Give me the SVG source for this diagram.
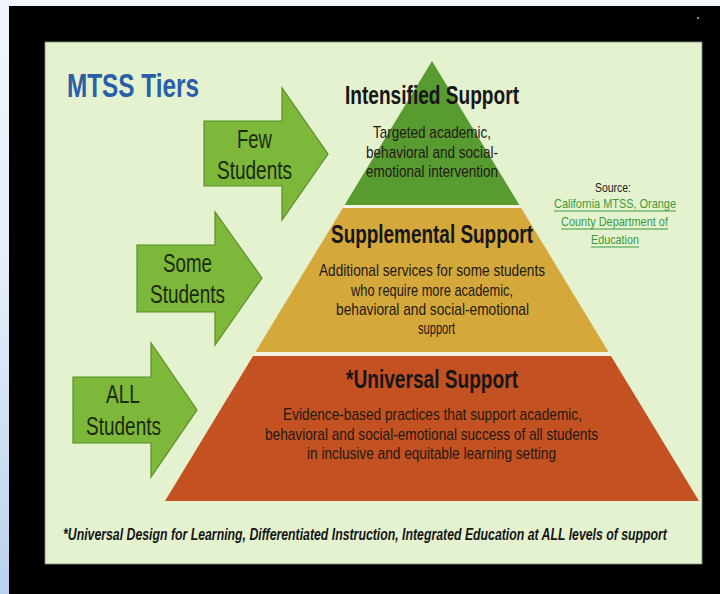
<svg xmlns="http://www.w3.org/2000/svg" width="720" height="594" viewBox="0 0 720 594">
  <defs>
    <linearGradient id="sideGrad" x1="0" y1="0" x2="0" y2="1">
      <stop offset="0" stop-color="#f1f6fc"/>
      <stop offset="0.5" stop-color="#e2ecf8"/>
      <stop offset="1" stop-color="#b9d1ec"/>
    </linearGradient>
    <style>
      text { font-family: "Liberation Sans", Arial, sans-serif; }
      .title { font-size: 33px; font-weight: bold; fill: #2a5fa8; }
      .arrow { fill: #7db83a; stroke: #5b8e2b; stroke-width: 1.2; }
      .arrowtxt { font-size: 25px; fill: #1c2a10; }
      .head { font-size: 25px; font-weight: bold; fill: #161616; }
      .body { font-size: 17px; fill: #231a12; }
      .src { font-size: 12.5px; fill: #222; }
      .link { font-size: 12.5px; fill: #3c9a3c; }
      .uline { stroke: #3c9a3c; stroke-width: 1; }
      .foot { font-size: 16px; font-weight: bold; font-style: italic; fill: #161616; }
    </style>
  </defs>

  <!-- screen background -->
  <rect x="0" y="0" width="720" height="594" fill="#f1f6fc"/>
  <rect x="0" y="0" width="9" height="594" fill="url(#sideGrad)"/>
  <rect x="9" y="6" width="711" height="588" fill="#000"/>
  <circle cx="698" cy="18" r="1.3" fill="#a07070"/>

  <!-- slide panel -->
  <rect x="45" y="42" width="657" height="522" fill="#e4f2cf" stroke="#7f8f78" stroke-width="0.8"/>

  <g id="title">
    <text class="title" x="67" y="97" textLength="132" lengthAdjust="spacingAndGlyphs">MTSS Tiers</text>
  </g>

  <!-- pyramid gap base -->
  <polygon points="432,61 699,501 165,501" fill="#f4f3e2"/>

  <g id="tier-intensified">
    <polygon points="432,61 519.4,205 344.6,205" fill="#589b31"/>
    <text class="head" x="345" y="104" textLength="174" lengthAdjust="spacingAndGlyphs">Intensified Support</text>
    <text class="body" x="373" y="138" textLength="118" lengthAdjust="spacingAndGlyphs">Targeted academic,</text>
    <text class="body" x="366" y="158" textLength="132" lengthAdjust="spacingAndGlyphs">behavioral and social-</text>
    <text class="body" x="366" y="177" textLength="132" lengthAdjust="spacingAndGlyphs">emotional intervention</text>
  </g>

  <g id="tier-supplemental">
    <polygon points="342.8,208 521.2,208 608.6,352 255.4,352" fill="#d5a83c"/>
    <text class="head" x="331" y="243" textLength="202" lengthAdjust="spacingAndGlyphs">Supplemental Support</text>
    <text class="body" x="319" y="276" textLength="226" lengthAdjust="spacingAndGlyphs">Additional services for some students</text>
    <text class="body" x="351" y="295.5" textLength="162" lengthAdjust="spacingAndGlyphs">who require more academic,</text>
    <text class="body" x="336" y="315" textLength="193" lengthAdjust="spacingAndGlyphs">behavioral and social-emotional</text>
    <text class="body" x="418" y="334" textLength="37" lengthAdjust="spacingAndGlyphs">support</text>
  </g>

  <g id="tier-universal">
    <polygon points="253,356 611,356 699,501 165,501" fill="#c45121"/>
    <text class="head" x="346" y="388" textLength="172" lengthAdjust="spacingAndGlyphs">*Universal Support</text>
    <text class="body" x="283" y="420" textLength="299" lengthAdjust="spacingAndGlyphs">Evidence-based practices that support academic,</text>
    <text class="body" x="265" y="440" textLength="333" lengthAdjust="spacingAndGlyphs">behavioral and social-emotional success of all students</text>
    <text class="body" x="307" y="459" textLength="249" lengthAdjust="spacingAndGlyphs">in inclusive and equitable learning setting</text>
  </g>

  <g id="arrow-few">
    <path class="arrow" d="M204,121 H282 V88 L328,154 L282,220 V186 H204 Z"/>
    <text class="arrowtxt" x="237" y="148" textLength="35" lengthAdjust="spacingAndGlyphs">Few</text>
    <text class="arrowtxt" x="217" y="179" textLength="75" lengthAdjust="spacingAndGlyphs">Students</text>
  </g>

  <g id="arrow-some">
    <path class="arrow" d="M137,245 H215 V212 L262,278 L215,345 V312 H137 Z"/>
    <text class="arrowtxt" x="163" y="272" textLength="49" lengthAdjust="spacingAndGlyphs">Some</text>
    <text class="arrowtxt" x="150" y="303" textLength="75" lengthAdjust="spacingAndGlyphs">Students</text>
  </g>

  <g id="arrow-all">
    <path class="arrow" d="M73,377 H151 V343 L197,410 L151,477 V443 H73 Z"/>
    <text class="arrowtxt" x="106" y="403" textLength="34" lengthAdjust="spacingAndGlyphs">ALL</text>
    <text class="arrowtxt" x="86" y="435" textLength="75" lengthAdjust="spacingAndGlyphs">Students</text>
  </g>

  <g id="source">
    <text class="src" transform="translate(595,192) scale(0.86,1)" x="0" y="0" textLength="41.9" lengthAdjust="spacingAndGlyphs">Source:</text>
    <text class="link" transform="translate(554,208) scale(0.86,1)" x="0" y="0" textLength="141.9" lengthAdjust="spacingAndGlyphs">California MTSS, Orange</text>
    <line class="uline" x1="554" y1="211" x2="676" y2="211"/>
    <text class="link" transform="translate(561,226) scale(0.86,1)" x="0" y="0" textLength="124.4" lengthAdjust="spacingAndGlyphs">County Department of</text>
    <line class="uline" x1="561" y1="229" x2="668" y2="229"/>
    <text class="link" transform="translate(591,244) scale(0.86,1)" x="0" y="0" textLength="55.8" lengthAdjust="spacingAndGlyphs">Education</text>
    <line class="uline" x1="591" y1="247" x2="639" y2="247"/>
  </g>

  <g id="footnote">
    <text class="foot" transform="translate(63,540) scale(0.7684,1)" x="0" y="0" textLength="786" lengthAdjust="spacingAndGlyphs">*Universal Design for Learning, Differentiated Instruction, Integrated Education at ALL levels of support</text>
  </g>

  <g id="connectors"></g>
</svg>
